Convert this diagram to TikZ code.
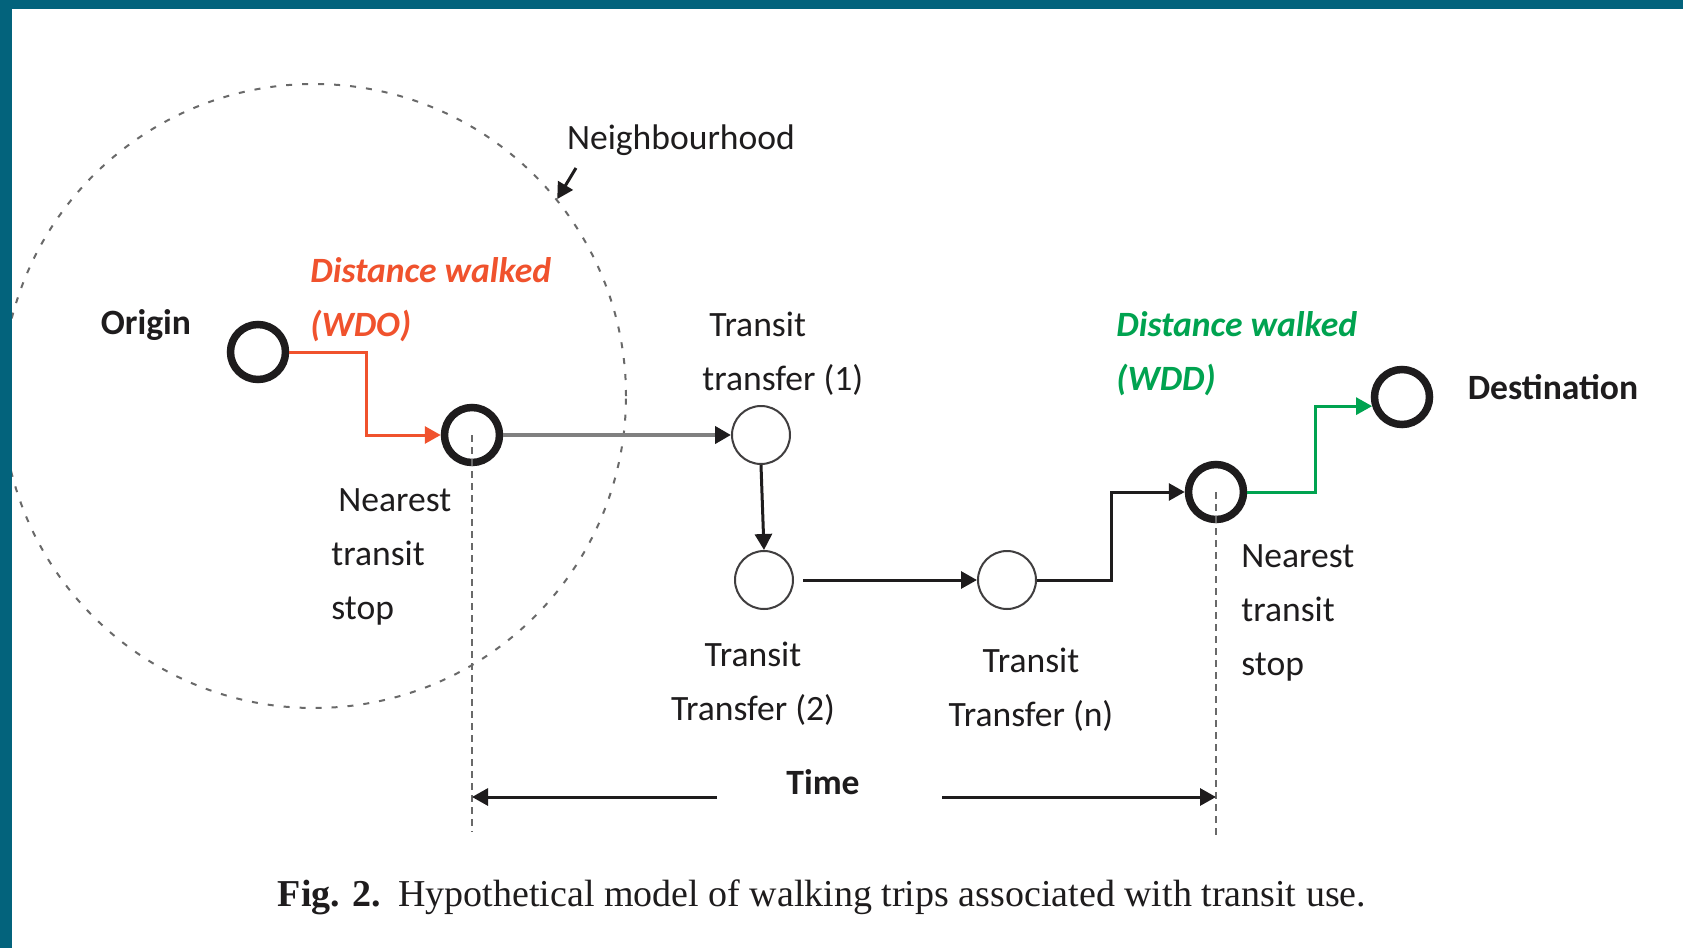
\documentclass[tikz,border=0pt]{standalone}
\usepackage{fontspec}
\setmainfont{Carlito}
\newfontfamily\capfont{Liberation Serif}
\usetikzlibrary{arrows.meta,calc}
\definecolor{frameteal}{RGB}{3,99,124}
\definecolor{walkred}{RGB}{240,82,45}
\definecolor{walkgreen}{RGB}{0,163,80}
\definecolor{inkdark}{RGB}{30,28,29}
\definecolor{linegray}{RGB}{128,128,128}
\definecolor{dashgray}{RGB}{105,105,105}
\begin{document}
\begin{tikzpicture}[x=0.5pt,y=-0.5pt,
  stopnode/.style={circle,draw=inkdark,line width=3.75pt,minimum size=27.5pt,inner sep=0pt},
  transnode/.style={circle,draw=inkdark!85,line width=1pt,minimum size=29pt,inner sep=0pt},
  tip/.style={-{Triangle[length=8pt,width=8.5pt,color=inkdark]}},
  flow/.style={tip,draw=inkdark,line width=1.5pt},
  txt/.style={inner sep=0pt,text=inkdark,font=\fontsize{17.8}{27}\selectfont},
  walktxt/.style={txt,align=left,font=\fontsize{17.8}{27}\selectfont\bfseries\itshape},
  hood/.style={circle,draw=dashgray,line width=1pt,dash pattern=on 3pt off 5pt,minimum size=312pt,inner sep=0pt},
  guide/.style={draw=dashgray,line width=1.2pt,dash pattern=on 3.5pt off 2.5pt}]

\fill[white] (0,0) rectangle (1683,948);
\useasboundingbox (0,0) rectangle (1683,948);

% neighbourhood boundary
\node[hood] (hood) at (314,396) {};

% stops and transfers
\node[stopnode] (origin) at (258,352) {};
\node[stopnode] (stop1) at (472,435) {};
\node[transnode] (t1) at (761,435) {};
\node[transnode] (t2) at (764,580) {};
\node[transnode] (tn) at (1007,580) {};
\node[stopnode] (stop2) at (1216,492) {};
\node[stopnode] (dest) at (1402,397) {};

% time guides
\coordinate (gl) at (472,832);
\coordinate (gr) at (1216,839);
\draw[guide] (stop1.center) -- (gl);
\draw[guide] (stop2.center) -- (gr);

% walk from origin
\coordinate (rx) at (366,0);
\draw[line width=1.5pt,draw=walkred,-{Triangle[length=8pt,width=8.5pt,color=walkred]}]
  (origin.east) -- (rx |- origin.east) -- (rx |- stop1.west) -- (stop1.west);

% transit legs
\draw[line width=2pt,draw=linegray,tip] (stop1.east) -- (t1.west);
\draw[flow] (t1.south) -- (t2.north);
\draw[flow,shorten <=4.5pt] (t2.east) -- (tn.west);
\coordinate (bx) at (1111,0);
\draw[flow] (tn.east) -- (bx |- tn.east) -- (bx |- stop2.west) -- (stop2.west);

% walk to destination
\coordinate (gx) at (1315,0);
\draw[line width=1.5pt,draw=walkgreen,-{Triangle[length=8pt,width=8.5pt,color=walkgreen]}]
  (stop2.east) -- (gx |- stop2.east) -- (gx |- dest.197) -- (dest.197);

% neighbourhood pointer
\node[txt] (hoodlabel) at (681,140) {Neighbourhood};
\coordinate (hoodtail) at (576,168);
\draw[flow] (hoodtail) -- (hood.39);

% labels
\node[txt,font=\fontsize{17.8}{27}\selectfont\bfseries] (originlabel) at (146,325) {Origin};
\node[txt,font=\fontsize{17.8}{27}\selectfont\bfseries] (destlabel) at (1553,387) {Destination};
\node[walktxt,text=walkred,anchor=west] (wdo) at (310,300) {Distance walked\\(WDO)};
\node[walktxt,text=walkgreen,anchor=west] (wdd) at (1116,354) {Distance walked\\(WDD)};
\node[txt,align=left,anchor=west] (t1label) at (702,354) {\hspace*{3.5pt}Transit\\transfer (1)};
\node[txt,align=left,anchor=west] (stop1label) at (331,557) {\hspace*{3.5pt}Nearest\\transit\\stop};
\node[txt,align=center] (t2label) at (753,684) {Transit\\Transfer (2)};
\node[txt,align=center] (tnlabel) at (1031,690) {Transit\\Transfer (n)};
\node[txt,align=left,anchor=west] (stop2label) at (1241,613) {Nearest\\transit\\stop};

% time span
\node[txt,font=\fontsize{17.8}{27}\selectfont\bfseries] (time) at (823,782) {Time};
\coordinate (tla) at (717,797);
\coordinate (tra) at (942,797);
\draw[flow] (tla) -- (gl |- tla);
\draw[flow] (tra) -- (gr |- tra);

% caption
\node[inner sep=0pt,text=inkdark,font=\capfont\fontsize{19}{22}\selectfont] (caption) at (822,897)
  {\textbf{Fig. 2.}\hspace{0.45em}Hypothetical model of walking trips associated with transit use.};

% frame
\fill[frameteal] (0,0) rectangle (1683,9);
\fill[frameteal] (0,0) rectangle (12,948);
\end{tikzpicture}
\end{document}
